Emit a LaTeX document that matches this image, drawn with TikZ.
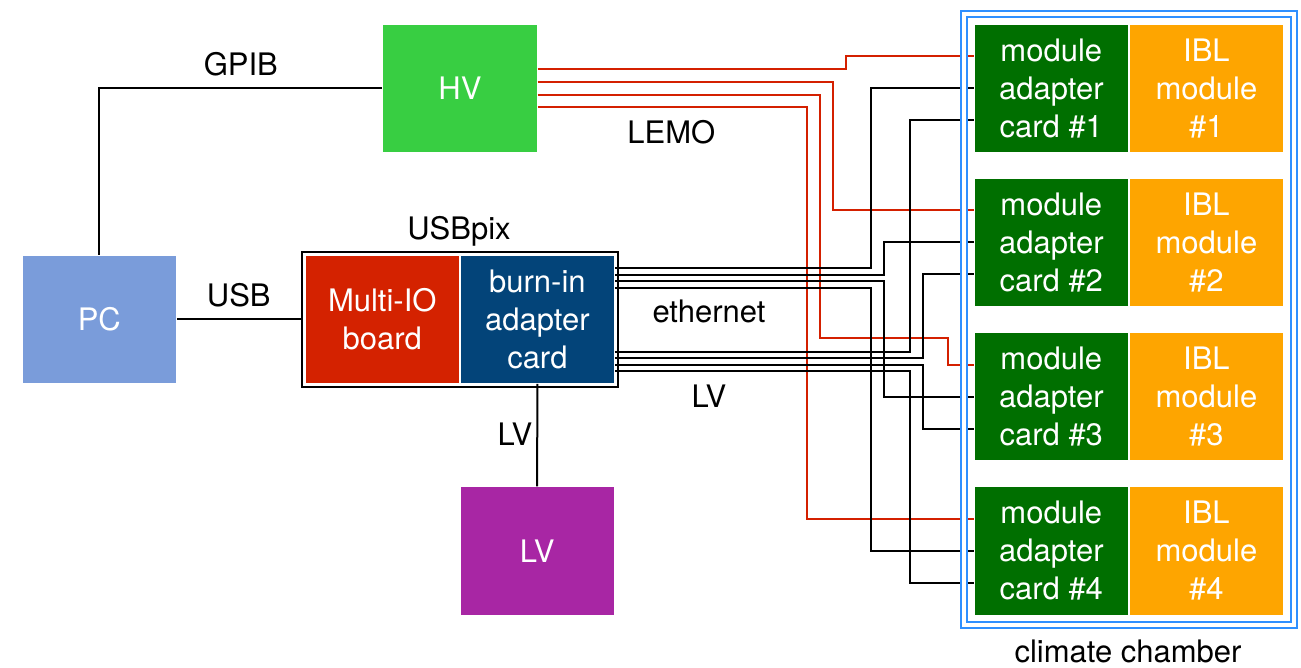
\documentclass[tikz,border=0pt]{standalone}
\usepackage{fontspec}
\setmainfont{TeX Gyre Heros}
\usetikzlibrary{positioning,fit}
\definecolor{pccol}{HTML}{7A9CDA}
\definecolor{hvcol}{HTML}{38CE42}
\definecolor{miocol}{HTML}{D42200}
\definecolor{burncol}{HTML}{034479}
\definecolor{lvcol}{HTML}{A826A4}
\definecolor{maccol}{HTML}{006F00}
\definecolor{iblcol}{HTML}{FEA500}
\definecolor{chambercol}{HTML}{2E8FFF}
\definecolor{lemocol}{HTML}{D42000}

\begin{document}
\begin{tikzpicture}[x=1pt, y=-1pt,
  font=\fontsize{31pt}{38pt}\selectfont,
  box/.style={minimum width=154.5pt, minimum height=128.3pt, inner sep=0pt,
    text=white, align=center, draw=white, line width=0.6pt},
  wire/.style={line width=2pt, black},
  lemo/.style={line width=2pt, lemocol}]
  \useasboundingbox[fill=white] (0,0) rectangle (1301,667);
  % boxes
  \node[box, fill=pccol] (pc) at (99.3,319.3) {PC};
  \node[box, fill=hvcol] (hv) at (460,88.2) {HV};
  \node[box, fill=miocol] (mio) at (382.3,319.3) {Multi-IO\\board};
  \node[box, fill=burncol, right=0pt of mio] (burn) {burn-in\\adapter\\card};
  \node[fit=(mio)(burn), inner sep=3pt, draw, line width=2pt] (usbpix) {};
  \node[box, fill=lvcol] (lv) at (537.1,550.8) {LV};
  \node[box, fill=maccol] (mac1) at (1051.3,88.2) {module\\adapter\\card \#1};
  \node[box, fill=iblcol, right=0pt of mac1] (ibl1) {IBL\\module\\\#1};
  \node[box, fill=maccol] (mac2) at (1051.3,242.4) {module\\adapter\\card \#2};
  \node[box, fill=iblcol, right=0pt of mac2] (ibl2) {IBL\\module\\\#2};
  \node[box, fill=maccol] (mac3) at (1051.3,396.6) {module\\adapter\\card \#3};
  \node[box, fill=iblcol, right=0pt of mac3] (ibl3) {IBL\\module\\\#3};
  \node[box, fill=maccol] (mac4) at (1051.3,550.9) {module\\adapter\\card \#4};
  \node[box, fill=iblcol, right=0pt of mac4] (ibl4) {IBL\\module\\\#4};
  % labels
  \node[anchor=base] (gpiblab) at (240.8,75) {GPIB};
  \node[anchor=base] (usblab) at (238.8,306) {USB};
  \node[anchor=base] (usbpixlab) at (459,239.5) {USBpix};
  \node[anchor=base] (lvlab) at (515,445) {LV};
  \node[anchor=base] (lemolab) at (671.3,143.3) {LEMO};
  \node[anchor=base] (ethlab) at (709,322) {ethernet};
  \node[anchor=base] (lvwirelab) at (709,407.3) {LV};
  \node[anchor=base] (chamberlab) at (1128,662.7) {climate chamber};
  % PC, LV
  \draw[wire] (pc.north) |- (hv.west);
  \draw[wire] (pc.east) -- (usbpix.west);
  \draw[wire] (burn.south) -- (lv.north);
  % HV to modules
  \draw[lemo] ([yshift=19pt]hv.east) -| (845.7,56.2) -- ([yshift=32pt]mac1.west);
  \draw[lemo] ([yshift=6.3pt]hv.east) -| (832.7,210.4) -- ([yshift=32pt]mac2.west);
  \draw[lemo] ([yshift=-6.3pt]hv.east) -| (820,338.3) -| (948.3,364.6) -- ([yshift=32pt]mac3.west);
  \draw[lemo] ([yshift=-19pt]hv.east) -| (806.7,518.9) -- ([yshift=32pt]mac4.west);
  % ethernet
  \draw[wire] ([yshift=51pt]burn.east) -| (871.3,88.2) -- (mac1.west);
  \draw[wire] ([yshift=44.6pt]burn.east) -| (883.5,242.4) -- (mac2.west);
  \draw[wire] ([yshift=38.2pt]burn.east) -| (883.5,396.6) -- (mac3.west);
  \draw[wire] ([yshift=31.8pt]burn.east) -| (871.3,550.9) -- (mac4.west);
  % LV to modules
  \draw[wire] ([yshift=-32.4pt]burn.east) -| (910,120.2) -- ([yshift=-32pt]mac1.west);
  \draw[wire] ([yshift=-38.8pt]burn.east) -| (922.7,274.4) -- ([yshift=-32pt]mac2.west);
  \draw[wire] ([yshift=-45.2pt]burn.east) -| (922.7,428.6) -- ([yshift=-32pt]mac3.west);
  \draw[wire] ([yshift=-51.6pt]burn.east) -| (910,582.9) -- ([yshift=-32pt]mac4.west);
  % climate chamber
  \node[fit=(mac1)(ibl4), inner sep=10pt, draw=chambercol, double, double distance=4pt,
    line width=1.9pt] (chamber) {};
\end{tikzpicture}
\end{document}
